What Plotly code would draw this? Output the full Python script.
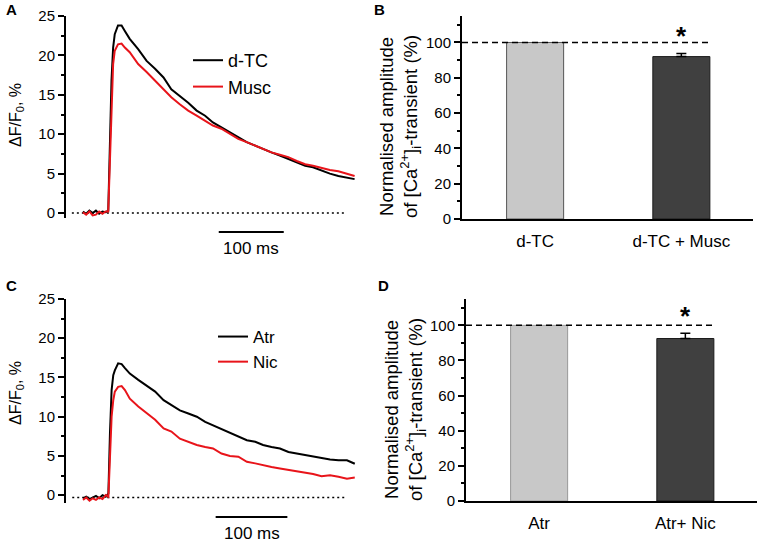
import plotly.graph_objects as go

W, H = 761, 542
FONT = "Liberation Sans, Arial, sans-serif"

# ---------------- data ----------------
# Panel A: time (ms) and dF/F0 (%)
time_a = [0, 5, 10, 15, 20, 25, 30, 35, 39, 41.5, 44, 46.5, 49, 54, 59.5, 64.5, 72, 85, 98, 111,
          124, 136, 149, 162, 175, 188, 200, 213, 226, 239, 252, 265, 277, 290, 303, 316, 329,
          342, 354, 367, 380, 393, 406, 418]
dtc_a = [0.2, -0.1, 0.3, 0.0, 0.3, -0.1, 0.2, 0.1, 0.3, 8.4, 16.8, 21.0, 22.7, 23.8, 23.8, 23.1,
         22.1, 20.8, 19.3, 18.3, 17.2, 15.7, 14.9, 14.0, 13.0, 12.35, 11.5, 10.9, 10.2, 9.6, 9.0,
         8.55, 8.1, 7.7, 7.3, 6.85, 6.4, 6.0, 5.8, 5.4, 5.0, 4.7, 4.45, 4.3]
musc_a = [0.1, -0.2, 0.2, -0.3, -0.2, 0.2, -0.1, 0.2, 0.2, 6.5, 14.7, 18.9, 20.6, 21.4, 21.5, 21.0,
          20.4, 18.9, 17.9, 16.8, 15.7, 14.7, 13.8, 13.0, 12.35, 11.7, 11.1, 10.7, 10.0, 9.4, 9.0,
          8.55, 8.1, 7.7, 7.4, 7.1, 6.6, 6.2, 6.0, 5.7, 5.45, 5.3, 5.0, 4.7]

# Panel C: time (ms) and dF/F0 (%)
time_c = [0, 4.5, 9.1, 13.6, 18.1, 22.7, 27.2, 31.7, 35.4, 37.6, 39.9, 42.2, 44.4, 49.0, 53.9,
          58.5, 65.3, 77.1, 88.8, 100.6, 112.4, 123.3, 135.1, 146.9, 158.7, 170.4, 181.3, 193.1,
          204.9, 216.7, 228.5, 240.2, 251.1, 262.9, 274.7, 286.5, 298.3, 310.1, 320.9, 332.7,
          344.5, 356.3, 368.1, 379.0]
atr_c = [-0.4, -0.2, -0.5, -0.3, -0.1, -0.4, 0.0, -0.2, 0.2, 7.9, 13.4, 15.3, 15.9, 16.8, 16.7,
         16.2, 15.5, 14.7, 14.0, 13.2, 12.1, 11.5, 10.8, 10.4, 10.0, 9.35, 8.9, 8.4, 7.9, 7.45,
         7.0, 6.8, 6.4, 6.15, 5.95, 5.5, 5.3, 5.1, 4.9, 4.7, 4.55, 4.45, 4.45, 4.0]
nic_c = [-0.6, -0.3, -0.7, -0.4, -0.6, -0.3, -0.5, 0.0, -0.2, 5.7, 10.0, 12.1, 13.2, 13.8, 13.9,
         13.4, 12.3, 11.3, 10.4, 9.6, 8.5, 8.1, 7.2, 6.8, 6.4, 6.15, 5.95, 5.3, 5.0, 4.9, 4.25,
         4.05, 3.8, 3.6, 3.4, 3.2, 3.0, 2.85, 2.7, 2.4, 2.55, 2.35, 2.1, 2.25]

baseline_a = 0.0
baseline_c = -0.3
dotted_span_a = [-17, 403]
dotted_span_c = [-15, 368]
scalebar_a = [209, 309]   # 100 ms
scalebar_c = [185, 285]   # 100 ms

# Panel B / D: normalised amplitude (%)
cats_b = ["d-TC", "d-TC + Musc"]
vals_b = [100, 92]
err_b = 1.7
cats_d = ["Atr", "Atr+ Nic"]
vals_d = [100, 92.5]
err_d = 3.0
ref_level = 100
star_b = 103.8
star_d = 105.3

# ---------------- helpers ----------------
def px(x):
    return x / W


def py(y):
    return 1 - y / H


fig = go.Figure()

line_w = 2
# Panel A traces
fig.add_trace(go.Scatter(x=dotted_span_a, y=[baseline_a, baseline_a], mode="lines",
                         line=dict(color="black", width=1.5, dash="2px,3px"),
                         showlegend=False, xaxis="x", yaxis="y", hoverinfo="skip"))
fig.add_trace(go.Scatter(x=time_a, y=dtc_a, mode="lines", name="d-TC",
                         line=dict(color="black", width=line_w), xaxis="x", yaxis="y",
                         legend="legend"))
fig.add_trace(go.Scatter(x=time_a, y=musc_a, mode="lines", name="Musc",
                         line=dict(color="#e8141a", width=line_w), xaxis="x", yaxis="y",
                         legend="legend"))

# Panel C traces
fig.add_trace(go.Scatter(x=dotted_span_c, y=[baseline_c, baseline_c], mode="lines",
                         line=dict(color="black", width=1.5, dash="2px,3px"),
                         showlegend=False, xaxis="x3", yaxis="y3", hoverinfo="skip"))
fig.add_trace(go.Scatter(x=time_c, y=atr_c, mode="lines", name="Atr",
                         line=dict(color="black", width=line_w), xaxis="x3", yaxis="y3",
                         legend="legend2"))
fig.add_trace(go.Scatter(x=time_c, y=nic_c, mode="lines", name="Nic",
                         line=dict(color="#e8141a", width=line_w), xaxis="x3", yaxis="y3",
                         legend="legend2"))

# Panel B bars
fig.add_trace(go.Bar(x=cats_b, y=vals_b, width=0.39,
                     marker=dict(color=["#c8c8c8", "#404040"],
                                 line=dict(color=["#555555", "#1a1a1a"], width=1)),
                     showlegend=False, xaxis="x2", yaxis="y2"))
fig.add_trace(go.Scatter(x=[cats_b[1]], y=[vals_b[1]], mode="markers",
                         marker=dict(size=0.1, color="rgba(0,0,0,0)"),
                         error_y=dict(type="data", array=[err_b], arrayminus=[0], symmetric=False,
                                      color="black", thickness=1.5, width=5),
                         showlegend=False, xaxis="x2", yaxis="y2"))
# Panel D bars
fig.add_trace(go.Bar(x=cats_d, y=vals_d, width=0.39,
                     marker=dict(color=["#c8c8c8", "#404040"],
                                 line=dict(color=["#999999", "#1a1a1a"], width=1)),
                     showlegend=False, xaxis="x4", yaxis="y4"))
fig.add_trace(go.Scatter(x=[cats_d[1]], y=[vals_d[1]], mode="markers",
                         marker=dict(size=0.1, color="rgba(0,0,0,0)"),
                         error_y=dict(type="data", array=[err_d], arrayminus=[0], symmetric=False,
                                      color="black", thickness=1.5, width=5),
                         showlegend=False, xaxis="x4", yaxis="y4"))

tickfont = dict(family=FONT, size=15, color="black")
yax_common = dict(showline=True, linewidth=2, linecolor="black", ticks="outside", ticklen=6,
                  tickwidth=1.5, tickcolor="black", showgrid=False, zeroline=False,
                  tickfont=tickfont, fixedrange=True, automargin=False)

fig.update_layout(
    width=W, height=H, margin=dict(l=0, r=0, t=0, b=0, autoexpand=False),
    paper_bgcolor="white", plot_bgcolor="white",
    font=dict(family=FONT, color="black"),
    barmode="overlay",
    xaxis=dict(domain=[px(66), px(360)], range=[-26, 426.3], visible=False, anchor="y"),
    yaxis=dict(domain=[py(218), py(16)], range=[-0.63, 25], dtick=5, anchor="x",
               minor=dict(ticks="outside", ticklen=3, dtick=2.5, tickcolor="black", tickwidth=1.5),
               **yax_common),
    xaxis3=dict(domain=[px(66), px(360)], range=[-23.7, 386.3], visible=False, anchor="y3"),
    yaxis3=dict(domain=[py(503), py(299)], range=[-1.0, 25], dtick=5, anchor="x3",
                minor=dict(ticks="outside", ticklen=3, dtick=2.5, tickcolor="black", tickwidth=1.5),
                **yax_common),
    xaxis2=dict(domain=[px(462), px(753)], range=[-0.5, 1.49], type="category", anchor="y2",
                showline=True, linewidth=2, linecolor="black", ticks="", showgrid=False,
                automargin=False,
                tickfont=dict(family=FONT, size=17, color="black"), ticklabelstandoff=6),
    yaxis2=dict(domain=[py(219), py(16)], range=[0, 115], dtick=20, anchor="x2",
                minor=dict(ticks="outside", ticklen=3, dtick=10, tickcolor="black", tickwidth=1.5),
                **yax_common),
    xaxis4=dict(domain=[px(466), px(757)], range=[-0.5, 1.49], type="category", anchor="y4",
                showline=True, linewidth=2, linecolor="black", ticks="", showgrid=False,
                automargin=False,
                tickfont=dict(family=FONT, size=17, color="black"), ticklabelstandoff=6),
    yaxis4=dict(domain=[py(501), py(299)], range=[0, 115], dtick=20, anchor="x4",
                minor=dict(ticks="outside", ticklen=3, dtick=10, tickcolor="black", tickwidth=1.5),
                **yax_common),
    legend=dict(x=px(188), y=py(42), xanchor="left", yanchor="top",
                font=dict(family=FONT, size=18, color="black"), bgcolor="rgba(0,0,0,0)",
                borderwidth=0, itemwidth=30, tracegroupgap=0),
    legend2=dict(x=px(213), y=py(319), xanchor="left", yanchor="top",
                 font=dict(family=FONT, size=17, color="black"), bgcolor="rgba(0,0,0,0)",
                 borderwidth=0, itemwidth=30, tracegroupgap=0),
    showlegend=True,
)

# dashed reference lines
for xr, yr, x1 in [("x2", "y2", 1.2), ("x4", "y4", 1.2)]:
    fig.add_shape(type="line", xref=xr, yref=yr, x0=-0.5, x1=x1, y0=ref_level, y1=ref_level,
                  line=dict(color="black", width=1.5, dash="6px,4px"))

# scale bars
fig.add_shape(type="line", xref="x", yref="paper", x0=scalebar_a[0], x1=scalebar_a[1],
              y0=py(232), y1=py(232), line=dict(color="black", width=2))
fig.add_shape(type="line", xref="x3", yref="paper", x0=scalebar_c[0], x1=scalebar_c[1],
              y0=py(517), y1=py(517), line=dict(color="black", width=2))

ann = []
ann.append(dict(x=sum(scalebar_a) / 2, xref="x", y=py(248), yref="paper", text="100 ms",
                showarrow=False, font=dict(size=17), xanchor="center", yanchor="middle"))
ann.append(dict(x=sum(scalebar_c) / 2, xref="x3", y=py(533), yref="paper", text="100 ms",
                showarrow=False, font=dict(size=17), xanchor="center", yanchor="middle"))
# asterisks
ann.append(dict(x=cats_b[1], xref="x2", y=star_b, yref="y2", text="<b>*</b>", showarrow=False,
                font=dict(size=26), xanchor="center", yanchor="middle"))
ann.append(dict(x=cats_d[1], xref="x4", y=star_d, yref="y4", text="<b>*</b>", showarrow=False,
                font=dict(size=26), xanchor="center", yanchor="middle"))
# y titles
ytitle_trace = "ΔF/F<sub>0</sub>, %"
ann.append(dict(x=px(16), y=py(115), xref="paper", yref="paper", text=ytitle_trace,
                textangle=-90, showarrow=False, font=dict(size=16),
                xanchor="center", yanchor="middle"))
ann.append(dict(x=px(16), y=py(393), xref="paper", yref="paper", text=ytitle_trace,
                textangle=-90, showarrow=False, font=dict(size=16),
                xanchor="center", yanchor="middle"))
ytitle_bar = "Normalised amplitude<br>of [Ca<sup>2+</sup>]<sub>i</sub>-transient (%)"
ann.append(dict(x=px(400), y=py(127), xref="paper", yref="paper", text=ytitle_bar,
                textangle=-90, showarrow=False, font=dict(size=18.5),
                xanchor="center", yanchor="middle"))
ann.append(dict(x=px(405), y=py(410), xref="paper", yref="paper", text=ytitle_bar,
                textangle=-90, showarrow=False, font=dict(size=18.5),
                xanchor="center", yanchor="middle"))
# panel letters
for letter, x, y in [("A", 11, 10), ("B", 379, 10), ("C", 11, 285), ("D", 383, 285)]:
    ann.append(dict(x=px(x), y=py(y), xref="paper", yref="paper", text=f"<b>{letter}</b>",
                    showarrow=False, font=dict(size=15), xanchor="center", yanchor="middle"))
fig.update_layout(annotations=ann)

fig.write_html("out.html", config={"displayModeBar": False},
               post_script="document.body.style.margin='0';")
